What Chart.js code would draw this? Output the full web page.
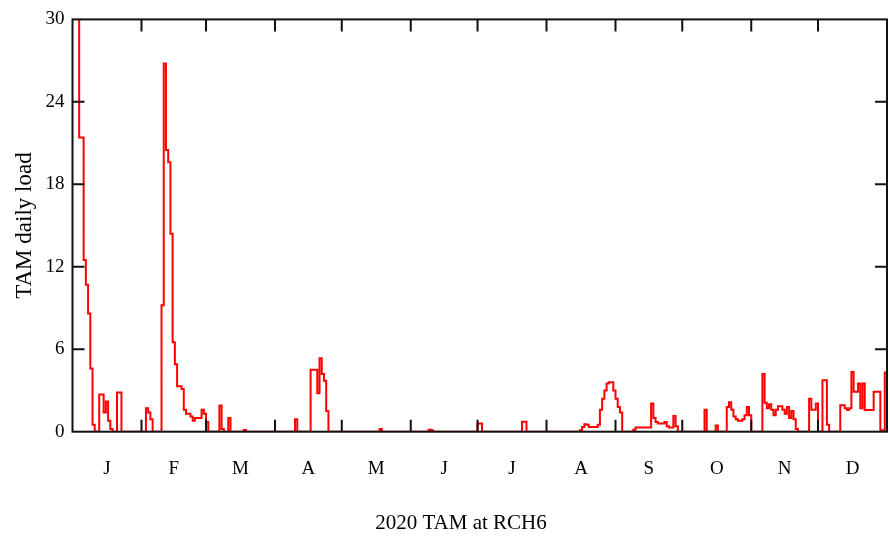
<!DOCTYPE html>
<html>
<head>
<meta charset="utf-8">
<title>2020 TAM at RCH6</title>
<script src="https://cdn.jsdelivr.net/npm/chart.js@4.4.0/dist/chart.umd.min.js"></script>
<style>
  html, body { margin: 0; padding: 0; background: #fff; }
  #chartBox { width: 890px; height: 541px; }
</style>
</head>
<body>
<div id="chartBox"><canvas id="loadChart" width="890" height="541"></canvas></div>
<script>
const monthLetters = ['J', 'F', 'M', 'A', 'M', 'J', 'J', 'A', 'S', 'O', 'N', 'D'];
// day-of-year where each month starts (2020 is a leap year), last entry = year end
const monthStarts = [0, 31, 60, 91, 121, 152, 182, 213, 244, 274, 305, 335, 366];
const yTicks = [0, 6, 12, 18, 24, 30];
const caption = '2020 TAM at RCH6';

// daily TAM load, one array per month
const loadJan = [48, 40, 34, 21.4, 21.4, 12.5, 10.7, 8.6, 4.6, 0.5, 0, 0, 2.7, 2.7, 1.4, 2.2, 0.8, 0.2, 0, 0,
                 2.85, 2.85, 0, 0, 0, 0, 0, 0, 0, 0, 0];
const loadFeb = [0, 0, 1.7, 1.4, 0.9, 0, 0, 0, 0, 9.2, 26.8, 20.5, 19.6, 14.4, 6.5, 4.9, 3.3, 3.3, 3.1, 1.6,
                 1.3, 1.3, 1.1, 0.8, 1.0, 1.0, 1.0, 1.6, 1.3];
const loadMar = [0.7, 0, 0, 0, 0, 0, 1.9, 0.2, 0, 0, 1.0, 0, 0, 0, 0, 0, 0, 0.12, 0, 0,
                 0, 0, 0, 0, 0, 0, 0, 0, 0, 0, 0];
const loadApr = [0, 0, 0, 0, 0, 0, 0, 0, 0, 0.9, 0, 0, 0, 0, 0, 0, 4.5, 4.5, 4.5, 2.8,
                 5.35, 4.2, 3.7, 1.5, 0, 0, 0, 0, 0, 0];
const loadMay = [0, 0, 0, 0, 0, 0, 0, 0, 0, 0, 0, 0, 0, 0, 0, 0, 0, 0.2, 0, 0,
                 0, 0, 0, 0, 0, 0, 0, 0, 0, 0, 0];
const loadJun = [0, 0, 0, 0, 0, 0, 0, 0, 0.15, 0.1, 0, 0, 0, 0, 0, 0, 0, 0, 0, 0,
                 0, 0, 0, 0, 0, 0, 0, 0, 0, 0];
const loadJul = [0.6, 0.6, 0, 0, 0, 0, 0, 0, 0, 0, 0, 0, 0, 0, 0, 0, 0, 0, 0, 0,
                 0.72, 0.72, 0, 0, 0, 0, 0, 0, 0, 0, 0];
const loadAug = [0, 0, 0, 0, 0, 0, 0, 0, 0, 0, 0, 0, 0, 0, 0, 0.1, 0.35, 0.55, 0.5, 0.35,
                 0.35, 0.35, 0.35, 0.5, 1.6, 2.4, 3.0, 3.5, 3.6, 3.6, 3.0];
const loadSep = [2.4, 1.8, 1.4, 0, 0, 0, 0, 0, 0.15, 0.3, 0.3, 0.3, 0.3, 0.3, 0.3, 0.3, 2.05, 1.0, 0.7, 0.6,
                 0.6, 0.6, 0.7, 0.4, 0.3, 0.3, 1.15, 0.4, 0, 0];
const loadOct = [0, 0, 0, 0, 0, 0, 0, 0, 0, 0, 1.6, 0, 0, 0, 0, 0.45, 0, 0, 0, 0,
                 1.8, 2.15, 1.6, 1.1, 0.9, 0.8, 0.8, 0.9, 1.2, 1.8, 1.2];
const loadNov = [0, 0, 0, 0, 0, 4.2, 2.1, 1.7, 2.0, 1.6, 1.2, 1.6, 1.85, 1.85, 1.6, 1.3, 1.8, 1.0, 1.5, 0.9,
                 0.2, 0, 0, 0, 0, 0, 2.4, 1.6, 1.6, 2.05];
const loadDec = [0, 0, 3.75, 3.75, 0.5, 0, 0, 0, 0, 0, 1.93, 1.93, 1.7, 1.57, 1.7, 4.34, 2.9, 2.9, 3.5, 1.7,
                 3.5, 1.57, 1.57, 1.57, 1.57, 2.9, 2.9, 2.9, 0.1, 0.1, 4.3];

const dailyLoad = [].concat(loadJan, loadFeb, loadMar, loadApr, loadMay, loadJun,
                            loadJul, loadAug, loadSep, loadOct, loadNov, loadDec);

// each day's value holds from day i to day i+1, so close the last step at year end
const points = dailyLoad.map((v, i) => ({ x: i, y: v }));
points.push({ x: dailyLoad.length, y: dailyLoad[dailyLoad.length - 1] });

const serif = "'Liberation Serif', 'Times New Roman', serif";

// box round the plot area with short inward tick marks on every side
const frameTicks = {
  id: 'frameTicks',
  afterDatasetsDraw(chart) {
    const { ctx, chartArea: a, scales: { x, y } } = chart;
    const len = 12;
    ctx.save();
    ctx.strokeStyle = '#111';
    ctx.lineWidth = 2;
    ctx.strokeRect(a.left, a.top, a.right - a.left, a.bottom - a.top);
    ctx.beginPath();
    monthStarts.slice(1, -1).forEach(d => {
      const px = x.getPixelForValue(d);
      ctx.moveTo(px, a.bottom); ctx.lineTo(px, a.bottom - len);
      ctx.moveTo(px, a.top); ctx.lineTo(px, a.top + len);
    });
    yTicks.slice(1, -1).forEach(v => {
      const py = y.getPixelForValue(v);
      ctx.moveTo(a.left, py); ctx.lineTo(a.left + len, py);
      ctx.moveTo(a.right, py); ctx.lineTo(a.right - len, py);
    });
    ctx.stroke();
    ctx.restore();
  }
};

// caption under the month labels, sitting a little left of the plot centre
const bottomCaption = {
  id: 'bottomCaption',
  afterDraw(chart) {
    const ctx = chart.ctx;
    ctx.save();
    ctx.font = '21px ' + serif;
    ctx.fillStyle = '#000';
    ctx.textAlign = 'center';
    ctx.textBaseline = 'middle';
    ctx.fillText(caption, 461, 523);
    ctx.restore();
  }
};

new Chart(document.getElementById('loadChart'), {
  type: 'line',
  data: {
    datasets: [{
      data: points,
      borderColor: '#ff0000',
      borderWidth: 2,
      pointRadius: 0,
      stepped: true,
      fill: false,
      clip: 0
    }]
  },
  options: {
    responsive: false,
    animation: false,
    devicePixelRatio: 1,
    layout: { padding: { top: 16.7, right: 3, bottom: 0, left: 0 } },
    plugins: {
      legend: { display: false },
      tooltip: { enabled: false }
    },
    scales: {
      x: {
        type: 'linear',
        min: 0,
        max: 366,
        afterBuildTicks(scale) {
          // one label in the middle of each month
          scale.ticks = monthLetters.map((m, i) => ({ value: (monthStarts[i] + monthStarts[i + 1]) / 2 }));
        },
        afterFit(scale) { scale.height = 109.3; },
        ticks: {
          autoSkip: false,
          maxRotation: 0,
          padding: 26,
          color: '#000',
          font: { family: serif, size: 19 },
          callback: (v, i) => monthLetters[i]
        },
        grid: { display: false, drawTicks: false },
        border: { display: false }
      },
      y: {
        min: 0,
        max: 30,
        afterBuildTicks(scale) { scale.ticks = yTicks.map(v => ({ value: v })); },
        afterFit(scale) { scale.width = 72.5; },
        ticks: {
          padding: 8,
          color: '#000',
          font: { family: serif, size: 19 }
        },
        grid: { display: false, drawTicks: false },
        border: { display: false },
        title: {
          display: true,
          text: 'TAM daily load',
          color: '#000',
          font: { family: serif, size: 23 },
          padding: { top: 11, bottom: 0 }
        }
      }
    }
  },
  plugins: [frameTicks, bottomCaption]
});
</script>
</body>
</html>
